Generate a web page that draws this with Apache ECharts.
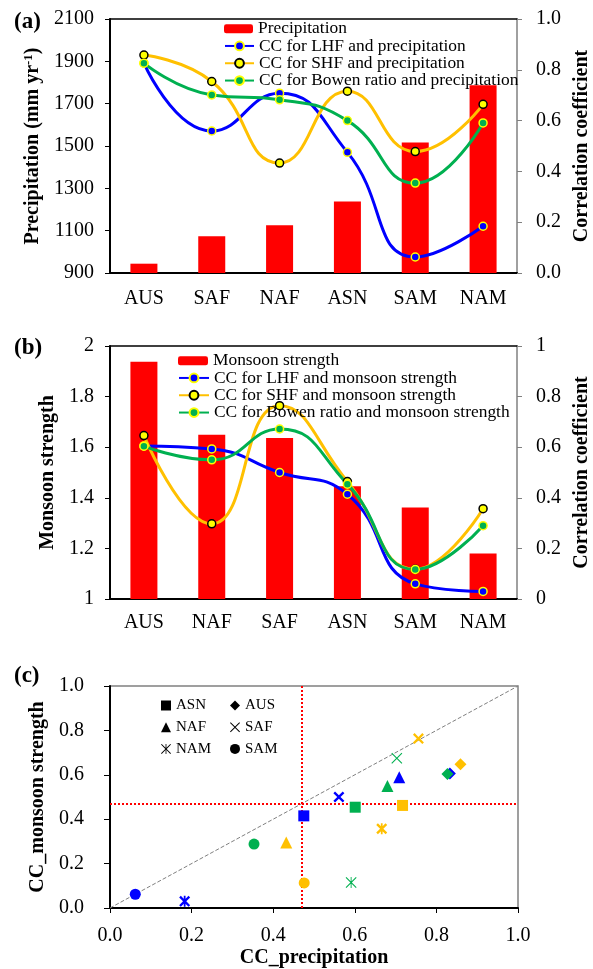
<!DOCTYPE html>
<html>
<head>
<meta charset="utf-8">
<script src="https://cdn.jsdelivr.net/npm/echarts@6/dist/echarts.min.js"></script>
<style>html,body{margin:0;padding:0;background:#fff}#main{width:593px;height:969px}</style>
</head>
<body>
<div id="main"></div>
<script>
// panel (a)
var regionsA = ['AUS', 'SAF', 'NAF', 'ASN', 'SAM', 'NAM'];
var precip = [944, 1074, 1126, 1238, 1516, 1787];
var ccLhfPrecip = [0.826, 0.559, 0.708, 0.475, 0.063, 0.184];
var ccShfPrecip = [0.858, 0.754, 0.433, 0.716, 0.478, 0.664];
var ccBowenPrecip = [0.826, 0.701, 0.682, 0.600, 0.354, 0.591];

// panel (b)
var regionsB = ['AUS', 'NAF', 'SAF', 'ASN', 'SAM', 'NAM'];
var monsoon = [1.938, 1.649, 1.636, 1.446, 1.362, 1.180];
var ccLhfMonsoon = [0.605, 0.593, 0.500, 0.414, 0.060, 0.030];
var ccShfMonsoon = [0.646, 0.297, 0.764, 0.464, 0.118, 0.357];
var ccBowenMonsoon = [0.604, 0.550, 0.672, 0.454, 0.117, 0.290];

// panel (c): [CC_precipitation, CC_monsoon strength] for each region
var regionsC = ['ASN', 'AUS', 'NAF', 'SAF', 'NAM', 'SAM'];
var lhfPts = [[0.475, 0.415], [0.833, 0.606], [0.709, 0.589], [0.561, 0.500], [0.183, 0.030], [0.062, 0.062]];
var shfPts = [[0.717, 0.462], [0.859, 0.648], [0.432, 0.295], [0.756, 0.763], [0.666, 0.357], [0.476, 0.113]];
var bowenPts = [[0.601, 0.454], [0.827, 0.604], [0.680, 0.550], [0.703, 0.675], [0.591, 0.115], [0.353, 0.288]];
var sigLevel = 0.466;
var oneToOne = [0, 1];

var FONT = 'Liberation Serif';
var BLUE = '#0000ff', ORANGE = '#ffc000', GREEN = '#00b050', YEL = '#ffff00', RED = '#ff0000', GREY = '#808080';

var X_THICK = 'M0,1.5L1.5,0L5,3.5L8.5,0L10,1.5L6.5,5L10,8.5L8.5,10L5,6.5L1.5,10L0,8.5L3.5,5Z';
var X_THIN = 'M0,0.7L0.7,0L5,4.3L9.3,0L10,0.7L5.7,5L10,9.3L9.3,10L5,5.7L0.7,10L0,9.3L4.3,5Z';
var BAR_THICK = 'M4.2,0L5.8,0L5.8,10L4.2,10Z';
var BAR_THIN = 'M4.6,0L5.4,0L5.4,10L4.6,10Z';

// symbol for [legend, LHF, SHF, Bowen]
var symbolsC = {
  ASN: ['rect', 'rect', 'rect', 'rect'],
  AUS: ['diamond', 'diamond', 'diamond', 'diamond'],
  NAF: ['triangle', 'triangle', 'triangle', 'triangle'],
  SAF: ['path://' + X_THIN, 'path://' + X_THICK, 'path://' + X_THICK, 'path://' + X_THIN],
  NAM: ['path://' + X_THIN + BAR_THIN, 'path://' + X_THICK + BAR_THICK, 'path://' + X_THICK + BAR_THICK, 'path://' + X_THIN + BAR_THIN],
  SAM: ['circle', 'circle', 'circle', 'circle']
};
var sizeC = {ASN: 11, AUS: 12, NAF: 12, SAF: 11, NAM: 11, SAM: 11};

function tickLabel(fmt) {
  return {fontFamily: FONT, fontSize: 20, color: '#000', formatter: fmt};
}
function axisName(size) {
  return {fontFamily: FONT, fontSize: size || 20, fontWeight: 'bold', color: '#000'};
}
function trim(v) { return String(+v.toFixed(1)); }
function fixed1(v) { return v.toFixed(1); }
function plain(v) { return String(v); }

function ccLine(name, data, color, fill, border, xi, yi) {
  return {
    name: name, type: 'line', xAxisIndex: xi, yAxisIndex: yi, data: data,
    smooth: 0.5, symbol: 'circle', symbolSize: 8,
    lineStyle: {color: color, width: 3},
    itemStyle: {color: fill, borderColor: border, borderWidth: 1.5},
    emphasis: {disabled: true}, z: 3
  };
}

var series = [
  {name: 'Precipitation', type: 'bar', xAxisIndex: 0, yAxisIndex: 0, data: precip, barWidth: 27,
    itemStyle: {color: RED}, emphasis: {disabled: true}},
  ccLine('CC for LHF and precipitation', ccLhfPrecip, BLUE, BLUE, YEL, 0, 1),
  ccLine('CC for SHF and precipitation', ccShfPrecip, ORANGE, YEL, '#000', 0, 1),
  ccLine('CC for Bowen ratio and precipitation', ccBowenPrecip, GREEN, GREEN, YEL, 0, 1),
  {name: 'Monsoon strength', type: 'bar', xAxisIndex: 1, yAxisIndex: 2, data: monsoon, barWidth: 27,
    itemStyle: {color: RED}, emphasis: {disabled: true}},
  ccLine('CC for LHF and monsoon strength', ccLhfMonsoon, BLUE, BLUE, YEL, 1, 3),
  ccLine('CC for SHF and monsoon strength', ccShfMonsoon, ORANGE, YEL, '#000', 1, 3),
  ccLine('CC for Bowen ratio and monsoon strength', ccBowenMonsoon, GREEN, GREEN, YEL, 1, 3)
];

// reference lines for panel (c)
series.push({
  name: 'ref', type: 'scatter', xAxisIndex: 2, yAxisIndex: 4, data: [], silent: true,
  markLine: {
    silent: true, symbol: 'none', z: 1, label: {show: false},
    data: [
      [{coord: [oneToOne[0], oneToOne[0]], lineStyle: {color: GREY, type: [4, 2], width: 1}},
       {coord: [oneToOne[1], oneToOne[1]]}],
      {xAxis: sigLevel, lineStyle: {color: RED, type: [2, 2], width: 2}},
      {yAxis: sigLevel, lineStyle: {color: RED, type: [2, 2], width: 2}}
    ]
  }
});

var ptColors = [BLUE, ORANGE, GREEN];
regionsC.forEach(function (r, i) {
  var pts = [lhfPts[i], shfPts[i], bowenPts[i]];
  series.push({
    name: r, type: 'scatter', xAxisIndex: 2, yAxisIndex: 4,
    symbol: symbolsC[r][0], symbolSize: sizeC[r], symbolKeepAspect: true,
    itemStyle: {color: '#000', opacity: 1}, emphasis: {disabled: true}, z: 4,
    data: pts.map(function (p, k) {
      return {value: p, symbol: symbolsC[r][k + 1], itemStyle: {color: ptColors[k]}};
    })
  });
});

var legendText = {fontFamily: FONT, fontSize: 17.4, color: '#000', lineHeight: 17.3};
var legendC = {fontFamily: FONT, fontSize: 15, color: '#000', lineHeight: 15};

function legendBox(left, top, w, h, names) {
  return {orient: 'vertical', left: left, top: top, padding: 0, itemGap: 0, itemWidth: w, itemHeight: h,
    selectedMode: false, textStyle: legendText, data: names};
}

// top frame line for panels (a) and (b)
function frameTop(gi) {
  return {gridIndex: gi, type: 'value', position: 'top', min: 0, max: 1, show: true,
    axisLine: {show: true, onZero: false, lineStyle: {color: '#000', width: 1.5}},
    axisTick: {show: false}, axisLabel: {show: false}, splitLine: {show: false}};
}

var option = {
  animation: false,
  backgroundColor: '#fff',
  title: [
    {text: '(a)', left: 14, top: 11, padding: 0, textStyle: axisName(23)},
    {text: '(b)', left: 14, top: 337, padding: 0, textStyle: axisName(23)},
    {text: '(c)', left: 14, top: 665, padding: 0, textStyle: axisName(23)}
  ],
  legend: [
    legendBox(224, 20, 29, 9, ['Precipitation']),
    legendBox(224, 37.3, 29, 11, ['CC for LHF and precipitation', 'CC for SHF and precipitation', 'CC for Bowen ratio and precipitation']),
    legendBox(178, 352, 30, 9, ['Monsoon strength']),
    legendBox(178, 369.3, 30, 11, ['CC for LHF and monsoon strength', 'CC for SHF and monsoon strength', 'CC for Bowen ratio and monsoon strength']),
    {orient: 'vertical', left: 161, top: 698, padding: 0, itemGap: 6.7, itemWidth: 10, itemHeight: 10,
      selectedMode: false, textStyle: legendC, data: ['ASN', 'NAF', 'NAM']},
    {orient: 'vertical', left: 230, top: 698, padding: 0, itemGap: 6.7, itemWidth: 10, itemHeight: 10,
      selectedMode: false, textStyle: legendC, data: ['AUS', 'SAF', 'SAM']}
  ],
  grid: [
    {left: 110, top: 19, width: 407, height: 254, outerBoundsMode: 'none'},
    {left: 110, top: 346, width: 407, height: 253, outerBoundsMode: 'none'},
    {left: 110, top: 686, width: 408, height: 222, outerBoundsMode: 'none',
      show: true, borderColor: GREY, borderWidth: 1.5, backgroundColor: 'transparent'}
  ],
  xAxis: [
    {gridIndex: 0, type: 'category', data: regionsA,
      axisLine: {lineStyle: {color: '#000', width: 2}},
      axisTick: {length: 5, lineStyle: {color: '#000'}},
      axisLabel: Object.assign(tickLabel(), {margin: 16})},
    {gridIndex: 1, type: 'category', data: regionsB,
      axisLine: {lineStyle: {color: '#000', width: 2}},
      axisTick: {length: 5, lineStyle: {color: '#000'}},
      axisLabel: Object.assign(tickLabel(), {margin: 14})},
    {gridIndex: 2, type: 'value', min: 0, max: 1, interval: 0.2,
      name: 'CC_precipitation', nameLocation: 'middle', nameGap: 40, nameTextStyle: axisName(20),
      axisLine: {lineStyle: {color: '#000', width: 2}},
      axisTick: {length: 5, lineStyle: {color: '#000'}},
      splitLine: {show: false},
      axisLabel: Object.assign(tickLabel(fixed1), {margin: 18})},
    frameTop(0),
    frameTop(1)
  ],
  yAxis: [
    {gridIndex: 0, type: 'value', min: 900, max: 2100, interval: 200, position: 'left',
      name: 'Precipitation (mm yr{sup|-1})', nameLocation: 'middle', nameRotate: 90, nameGap: 60,
      nameTextStyle: Object.assign(axisName(20), {rich: {sup: {fontFamily: FONT, fontSize: 13, fontWeight: 'bold', color: '#000', padding: [0, 0, 9, 0]}}}),
      axisLine: {show: true, lineStyle: {color: '#000', width: 2}},
      axisTick: {show: true, length: 5, lineStyle: {color: '#000'}},
      splitLine: {show: false}, axisLabel: Object.assign(tickLabel(plain), {margin: 16})},
    {gridIndex: 0, type: 'value', min: 0, max: 1, interval: 0.2, position: 'right',
      name: 'Correlation coefficient', nameLocation: 'middle', nameRotate: 90, nameGap: 55,
      nameTextStyle: axisName(20),
      axisLine: {show: true, lineStyle: {color: GREY, width: 1.5}},
      axisTick: {show: true, length: 5, lineStyle: {color: GREY}},
      splitLine: {show: false}, axisLabel: Object.assign(tickLabel(fixed1), {margin: 19})},
    {gridIndex: 1, type: 'value', min: 1, max: 2, interval: 0.2, position: 'left',
      name: 'Monsoon strength', nameLocation: 'middle', nameRotate: 90, nameGap: 47,
      nameTextStyle: axisName(20),
      axisLine: {show: true, lineStyle: {color: '#000', width: 2}},
      axisTick: {show: true, length: 5, lineStyle: {color: '#000'}},
      splitLine: {show: false}, axisLabel: Object.assign(tickLabel(trim), {margin: 16})},
    {gridIndex: 1, type: 'value', min: 0, max: 1, interval: 0.2, position: 'right',
      name: 'Correlation coefficient', nameLocation: 'middle', nameRotate: 90, nameGap: 54,
      nameTextStyle: axisName(20),
      axisLine: {show: true, lineStyle: {color: GREY, width: 1.5}},
      axisTick: {show: true, length: 5, lineStyle: {color: GREY}},
      splitLine: {show: false}, axisLabel: Object.assign(tickLabel(trim), {margin: 19})},
    {gridIndex: 2, type: 'value', min: 0, max: 1, interval: 0.2,
      name: 'CC_monsoon strength', nameLocation: 'middle', nameRotate: 90, nameGap: 62,
      nameTextStyle: axisName(20),
      axisLine: {show: true, lineStyle: {color: '#000', width: 2}},
      axisTick: {show: true, length: 6, lineStyle: {color: '#000'}},
      splitLine: {show: false},
      axisLabel: Object.assign(tickLabel(fixed1), {margin: 26})}
  ],
  series: series
};

var myChart = echarts.init(document.getElementById('main'));
myChart.setOption(option);
</script>
</body>
</html>
